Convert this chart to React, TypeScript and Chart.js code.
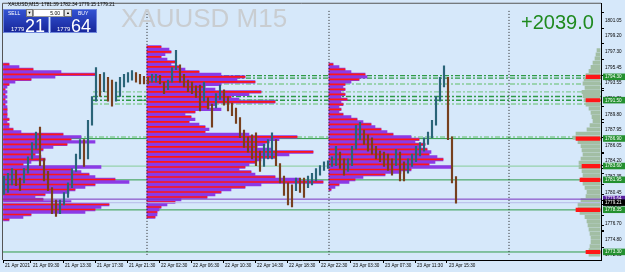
import React, { useEffect, useRef } from 'react';
import { Chart, registerables } from 'chart.js';

Chart.register(...registerables);

// ---------- data ----------
const timeTickLabels = ['21 Apr 2021', '21 Apr 09:30', '21 Apr 13:30', '21 Apr 17:30', '21 Apr 21:30', '22 Apr 02:30', '22 Apr 06:30', '22 Apr 10:30', '22 Apr 14:30', '22 Apr 18:30', '22 Apr 22:30', '23 Apr 03:30', '23 Apr 07:30', '23 Apr 11:30', '23 Apr 15:30'];
const timeTickBars = [0, 14, 30, 46, 62, 78, 94, 110, 126, 142, 158, 174, 190, 206, 222];
const daySeparatorBars = [72, 163, 253];
const sessionStartBars = [0, 72, 163];

// price candles, one entry per 30 minutes (two M15 bars)
const candleHighs = [
  1782.40, 1782.74, 1783.32, 1783.09, 1782.17, 1783.32, 1784.70, 1786.43, 1787.69, 1788.27,
  1784.47, 1782.97, 1781.02, 1779.52, 1779.52, 1780.44, 1781.59, 1783.32, 1785.04, 1786.77,
  1786.77, 1789.08, 1791.95, 1795.41, 1794.60, 1794.83, 1794.26, 1793.91, 1793.68, 1794.26,
  1794.60, 1794.83, 1795.06, 1794.83, 1794.60, 1794.37, 1794.26, 1794.60, 1794.60, 1794.49,
  1793.68, 1793.91, 1795.41, 1797.48, 1795.75, 1794.60, 1793.91, 1793.68, 1793.22, 1793.33,
  1793.68, 1791.83, 1791.03, 1792.30, 1793.33, 1792.76, 1791.95, 1791.15, 1790.57, 1789.42,
  1787.92, 1787.12, 1787.35, 1787.58, 1785.39, 1786.20, 1786.77, 1787.58, 1786.77, 1783.89,
  1782.40, 1781.59, 1781.36, 1782.17, 1782.17, 1782.17, 1782.40, 1782.74, 1783.32, 1783.66,
  1784.12, 1784.24, 1784.70, 1785.97, 1785.28, 1784.47, 1784.47, 1785.97, 1788.50, 1788.84,
  1787.92, 1787.35, 1787.00, 1785.97, 1785.39, 1785.28, 1785.04, 1784.47, 1785.62, 1785.28,
  1784.12, 1784.47, 1785.04, 1785.97, 1786.43, 1787.00, 1787.69, 1789.08, 1791.95, 1794.26,
  1795.64, 1794.26, 1787.12, 1782.34,
];
const candleLows = [
  1780.21, 1780.44, 1781.36, 1781.25, 1780.67, 1781.59, 1782.74, 1784.47, 1785.62, 1783.66,
  1781.82, 1780.67, 1777.91, 1777.56, 1777.91, 1778.94, 1779.86, 1781.02, 1782.97, 1784.47,
  1783.55, 1784.47, 1788.50, 1791.38, 1791.95, 1792.53, 1791.38, 1790.80, 1791.38, 1791.95,
  1793.10, 1793.68, 1793.91, 1793.68, 1793.45, 1793.45, 1793.45, 1793.68, 1793.68, 1793.45,
  1792.30, 1792.76, 1793.68, 1795.18, 1793.68, 1793.10, 1792.53, 1792.30, 1791.83, 1790.23,
  1791.38, 1790.46, 1788.27, 1790.57, 1791.60, 1790.92, 1790.23, 1789.65, 1788.73, 1787.00,
  1785.85, 1785.28, 1784.47, 1783.66, 1782.97, 1783.55, 1784.47, 1784.47, 1783.66, 1781.59,
  1780.09, 1778.94, 1778.71, 1780.67, 1780.44, 1779.86, 1781.02, 1781.36, 1781.82, 1782.51,
  1783.09, 1783.32, 1783.55, 1783.66, 1783.32, 1782.51, 1782.97, 1783.66, 1785.62, 1786.77,
  1786.20, 1785.39, 1785.04, 1784.47, 1784.12, 1783.55, 1783.09, 1782.51, 1783.66, 1781.82,
  1781.82, 1782.74, 1783.55, 1784.12, 1784.81, 1785.39, 1786.20, 1787.00, 1788.50, 1791.38,
  1793.10, 1786.77, 1781.59, 1779.15,
];

// session volume profiles (length in bars), rows every 0.30 from the top price down
const profileStep = 0.3;
const leftProfileTop = 1795.8;
const leftProfile = [3, 8, 15, 29, 46, 26, 14, 6, 3, 2, 1, 2, 1, 2, 1, 2, 1, 2, 2, 2, 2, 2, 3, 2, 3, 3, 5, 9, 30, 39, 34, 46, 32, 25, 20, 18, 16, 19, 21, 14, 10, 49, 34, 39, 43, 46, 56, 63, 46, 41, 36, 33, 21, 16, 20, 34, 53, 49, 46, 41, 14, 10, 3];
const midProfileTop = 1797.9;
const midProfile = [7, 11, 12, 9, 7, 10, 14, 12, 16, 19, 26, 37, 49, 45, 54, 37, 29, 34, 57, 51, 42, 46, 64, 34, 31, 37, 24, 19, 22, 24, 21, 26, 29, 31, 29, 51, 75, 66, 61, 59, 55, 62, 83, 71, 64, 57, 54, 51, 49, 46, 52, 54, 64, 76, 88, 57, 49, 42, 37, 34, 30, 17, 14, 10, 7, 6, 5, 5, 4];
const rightProfileTop = 1795.8;
const rightProfile = [2, 5, 8, 11, 18, 19, 15, 11, 8, 7, 8, 6, 8, 6, 9, 6, 7, 5, 6, 5, 7, 11, 14, 17, 21, 23, 26, 29, 32, 41, 45, 43, 48, 46, 49, 51, 50, 54, 57, 53, 50, 61, 41, 36, 28, 17, 13, 10, 5, 3, 1];

// whole-range profile at the right edge, rows every 0.50
const totalProfileStep = 0.5;
const totalProfileTop = 1797.5;
const totalProfile = [1.5, 2, 2.5, 3.5, 4.5, 5.5, 7, 8, 8.5, 7.5, 9, 8.5, 8, 7, 5.5, 4.5, 4, 3.5, 5, 6.5, 12, 13.5, 11, 9.5, 9, 8.5, 9.5, 10.5, 10.5, 9, 8.5, 9.5, 8.5, 7.5, 6.5, 7, 9.5, 11, 11, 10, 7.5, 6.5, 6, 5.5, 5, 4.5, 4.5, 5, 5.5, 5.5];

// price levels
const levelPrices = [1794.30, 1791.50, 1786.90, 1783.60, 1781.95, 1778.35, 1773.30];
const levelMarkLengths = [7, 7, 12, 9, 10, 12, 7];
const askPrice = 1779.64;
const bidPrice = 1779.21;
const axisTickPrices = [1801.05, 1799.20, 1797.30, 1795.45, 1793.55, 1791.70, 1789.80, 1787.95, 1786.05, 1784.20, 1782.35, 1780.45, 1778.55, 1776.70, 1774.80, 1772.95];
const dashLevelPrices = [1794.45, 1794.15, 1793.45, 1792.50, 1791.95, 1791.50, 1791.05, 1787.10];

// ---------- styling ----------
const BG = '#d6e8fa';
const FONT = "'Liberation Sans', Arial, sans-serif";
const PURPLE = '#8b3ae6';
const RED = '#ff1616';
const GREEN = '#2f9a47';
const LIGHT_GREEN = '#86cc98';
const UP = '#2a6478';
const DOWN = '#77401e';
const Y_MIN = 1772.955;
const Y_MAX = 1802.459;
const X_MAX = 299;
const RIGHT_EDGE = 298.5;

const dashStarts = [72, 72, 72, 45, 45, 45, 45, 26];
const dashColors = [GREEN, GREEN, LIGHT_GREEN, LIGHT_GREEN, GREEN, GREEN, LIGHT_GREEN, LIGHT_GREEN];

function profileSets(top: number, step: number, start: number, lens: number[]) {
  const data = lens.map((v, i) => ({ y: +(top - i * step).toFixed(2), x: [start, start + v] }));
  return [
    { type: 'bar', indexAxis: 'y', grouped: false, order: 60, data, backgroundColor: PURPLE, barThickness: 2.7, borderWidth: 0 },
    {
      type: 'bar', indexAxis: 'y', grouped: false, order: 55, data,
      backgroundColor: (c: any) => (c.dataIndex % 2 === 0 ? RED : 'rgba(0,0,0,0)'),
      barThickness: 1, borderWidth: 0,
    },
  ];
}

function hLine(price: number, from: number, to: number, color: string, width: number, dash: number[] = [], order = 70) {
  return {
    type: 'line', order, data: [{ x: from, y: price }, { x: to, y: price }],
    borderColor: color, borderWidth: width, borderDash: dash, pointRadius: 0, fill: false, tension: 0,
  };
}

const framePlugin = {
  id: 'frame',
  beforeDatasetsDraw(chart: any) {
    const { ctx, chartArea: a } = chart;
    ctx.save();
    ctx.strokeStyle = '#555';
    ctx.lineWidth = 1;
    ctx.beginPath();
    ctx.moveTo(a.left - 0.5, a.bottom);
    ctx.lineTo(a.left - 0.5, a.top - 0.5);
    ctx.lineTo(a.right, a.top - 0.5);
    ctx.stroke();
    ctx.restore();
  },
};

export default function App() {
  const ref = useRef<HTMLCanvasElement>(null);

  useEffect(() => {
    document.body.style.margin = '0';
    const candleData = candleHighs.map((h, i) => ({ x: i * 2 + 0.5, y: [candleLows[i], h] }));
    const candleColors = candleHighs.map((h, i) => {
      const m = (h + candleLows[i]) / 2;
      const pm = i ? (candleHighs[i - 1] + candleLows[i - 1]) / 2 : m;
      return m >= pm ? UP : DOWN;
    });

    const datasets: any[] = [
      ...profileSets(leftProfileTop, profileStep, sessionStartBars[0], leftProfile),
      ...profileSets(midProfileTop, profileStep, sessionStartBars[1], midProfile),
      ...profileSets(rightProfileTop, profileStep, sessionStartBars[2], rightProfile),
      {
        type: 'bar', indexAxis: 'y', grouped: false, order: 58,
        data: totalProfile.map((v, i) => ({ y: +(totalProfileTop - i * totalProfileStep).toFixed(2), x: [RIGHT_EDGE - v, RIGHT_EDGE] })),
        backgroundColor: '#a2bea4', barThickness: 3.3, borderWidth: 0,
      },
      ...dashLevelPrices.map((p, i) => hLine(p, dashStarts[i], X_MAX, dashColors[i], 1.4, [5, 2, 2, 2], 72)),
      hLine(levelPrices[1], 68, 137, GREEN, 1),
      hLine(levelPrices[2], 26, X_MAX, GREEN, 1),
      hLine(levelPrices[3], 0, X_MAX, LIGHT_GREEN, 1),
      hLine(levelPrices[4], 0, X_MAX, GREEN, 1),
      hLine(levelPrices[5], 0, X_MAX, GREEN, 1),
      hLine(levelPrices[6], 0, X_MAX, GREEN, 1),
      hLine(askPrice, 0, X_MAX, '#7a32c0', 1, [], 40),
      hLine(bidPrice, 0, X_MAX, '#b7b9ea', 1, [], 40),
      ...daySeparatorBars.map((b) => ({
        type: 'line', order: 20, data: [{ x: b, y: Y_MIN }, { x: b, y: Y_MAX }],
        borderColor: '#222', borderWidth: 1, borderDash: [1, 2], pointRadius: 0, fill: false,
      })),
      {
        type: 'bar', grouped: false, order: 10, data: candleData,
        backgroundColor: candleColors, barThickness: 1.5, borderWidth: 0,
      },
      {
        type: 'bar', indexAxis: 'y', grouped: false, order: 5,
        data: levelPrices.map((p, i) => ({ y: p, x: [RIGHT_EDGE - levelMarkLengths[i], RIGHT_EDGE] })),
        backgroundColor: RED, barThickness: 3.5, borderWidth: 0,
      },
    ];

    const boxSet = new Set(levelPrices.map((v) => v.toFixed(2)));
    const yTickValues = [...axisTickPrices, ...levelPrices, askPrice, bidPrice];

    const chart = new Chart(ref.current as HTMLCanvasElement, {
      type: 'bar',
      data: { datasets },
      plugins: [framePlugin],
      options: {
        responsive: false,
        maintainAspectRatio: false,
        animation: false,
        devicePixelRatio: 1,
        events: [],
        layout: { padding: { left: 3, top: 3, right: 0, bottom: 0 } },
        plugins: { legend: { display: false }, tooltip: { enabled: false }, title: { display: false } },
        scales: {
          x: {
            type: 'linear', min: 0, max: X_MAX, offset: false,
            afterBuildTicks: (s: any) => { s.ticks = timeTickBars.map((v) => ({ value: v })); },
            afterFit: (s: any) => { s.height = 12; },
            ticks: {
              autoSkip: false, maxRotation: 0, minRotation: 0, align: 'start', labelOffset: 2, padding: 0,
              font: { size: 4.6, family: FONT }, color: '#000',
              callback: (_v: any, i: number) => timeTickLabels[i],
            },
            grid: { drawOnChartArea: false, offset: false, tickLength: 3, color: '#000' },
            border: { display: true, color: '#000' },
          },
          y: {
            type: 'linear', position: 'right', min: Y_MIN, max: Y_MAX,
            afterBuildTicks: (s: any) => { s.ticks = yTickValues.map((v) => ({ value: v })); },
            afterFit: (s: any) => { s.width = 24; },
            ticks: {
              autoSkip: false, padding: 1,
              font: { size: 4.6, family: FONT },
              color: (c: any) => {
                const k = Number(c.tick.value).toFixed(2);
                return boxSet.has(k) || k === askPrice.toFixed(2) || k === bidPrice.toFixed(2) ? '#fff' : '#000';
              },
              showLabelBackdrop: true,
              backdropColor: (c: any) => {
                const k = Number(c.tick.value).toFixed(2);
                if (boxSet.has(k)) return '#23902f';
                if (k === askPrice.toFixed(2)) return '#5a22a0';
                if (k === bidPrice.toFixed(2)) return '#000';
                return 'rgba(0,0,0,0)';
              },
              backdropPadding: { top: 0.6, bottom: 0.4, left: 2, right: 4 },
              callback: (v: any) => Number(v).toFixed(2),
            },
            grid: { drawOnChartArea: false, tickLength: 3, color: '#000' },
            border: { display: true, color: '#000' },
          },
        },
      } as any,
    } as any);
    return () => chart.destroy();
  }, []);

  const abs = (o: any) => ({ position: 'absolute', whiteSpace: 'nowrap', lineHeight: 1, ...o });

  return (
    <div style={{ position: 'relative', width: 625, height: 272, background: BG, overflow: 'hidden', fontFamily: FONT }}>
      <style>{'body{margin:0}'}</style>
      <canvas ref={ref} width={625} height={272} style={{ position: 'absolute', left: 0, top: 0, width: 625, height: 272 }} />
      <div style={abs({ left: 121, top: 3, fontSize: 26, color: '#c9cdd1', lineHeight: '30px' })}>XAUUSD M15</div>
      <div style={abs({ left: 521, top: 10, fontSize: 20, color: '#1f8a1f', lineHeight: '24px' })}>+2039.0</div>
      <div style={abs({ left: 8, top: 2.6, fontSize: 4.8, color: '#000' })}>XAUUSD,M15&nbsp; 1781.39 1782.34 1779.15 1779.21</div>
      <div style={abs({ left: 3, top: 9, width: 46, height: 24, boxSizing: 'border-box', border: '1px solid #6f86dc', background: 'linear-gradient(#3252d2, #18279a)' })} />
      <div style={abs({ left: 50, top: 9, width: 47, height: 24, boxSizing: 'border-box', border: '1px solid #6f86dc', background: 'linear-gradient(#3252d2, #18279a)' })} />
      <div style={abs({ left: 26, top: 9, width: 7, height: 8, boxSizing: 'border-box', border: '1px solid #777', background: '#e6e6e6', fontSize: 4, color: '#000', textAlign: 'center', lineHeight: '6px' })}>▼</div>
      <div style={abs({ left: 33, top: 9, width: 31, height: 8, boxSizing: 'border-box', border: '1px solid #999', background: '#fff', fontSize: 5, color: '#000', textAlign: 'right', paddingRight: 3, lineHeight: '6px' })}>5.00</div>
      <div style={abs({ left: 64, top: 9, width: 8, height: 8, boxSizing: 'border-box', border: '1px solid #777', background: '#e6e6e6', fontSize: 4, color: '#000', textAlign: 'center', lineHeight: '6px' })}>▲</div>
      <div style={abs({ left: 8, top: 10.8, fontSize: 5, color: '#fff' })}>SELL</div>
      <div style={abs({ left: 78, top: 10.8, fontSize: 5, color: '#fff' })}>BUY</div>
      <div style={abs({ left: 11, top: 26, fontSize: 6, color: '#fff' })}>1779</div>
      <div style={abs({ left: 25, top: 16.8, fontSize: 18, color: '#fff' })}>21</div>
      <div style={abs({ left: 57, top: 26, fontSize: 6, color: '#fff' })}>1779</div>
      <div style={abs({ left: 71, top: 16.8, fontSize: 18, color: '#fff' })}>64</div>
    </div>
  );
}
